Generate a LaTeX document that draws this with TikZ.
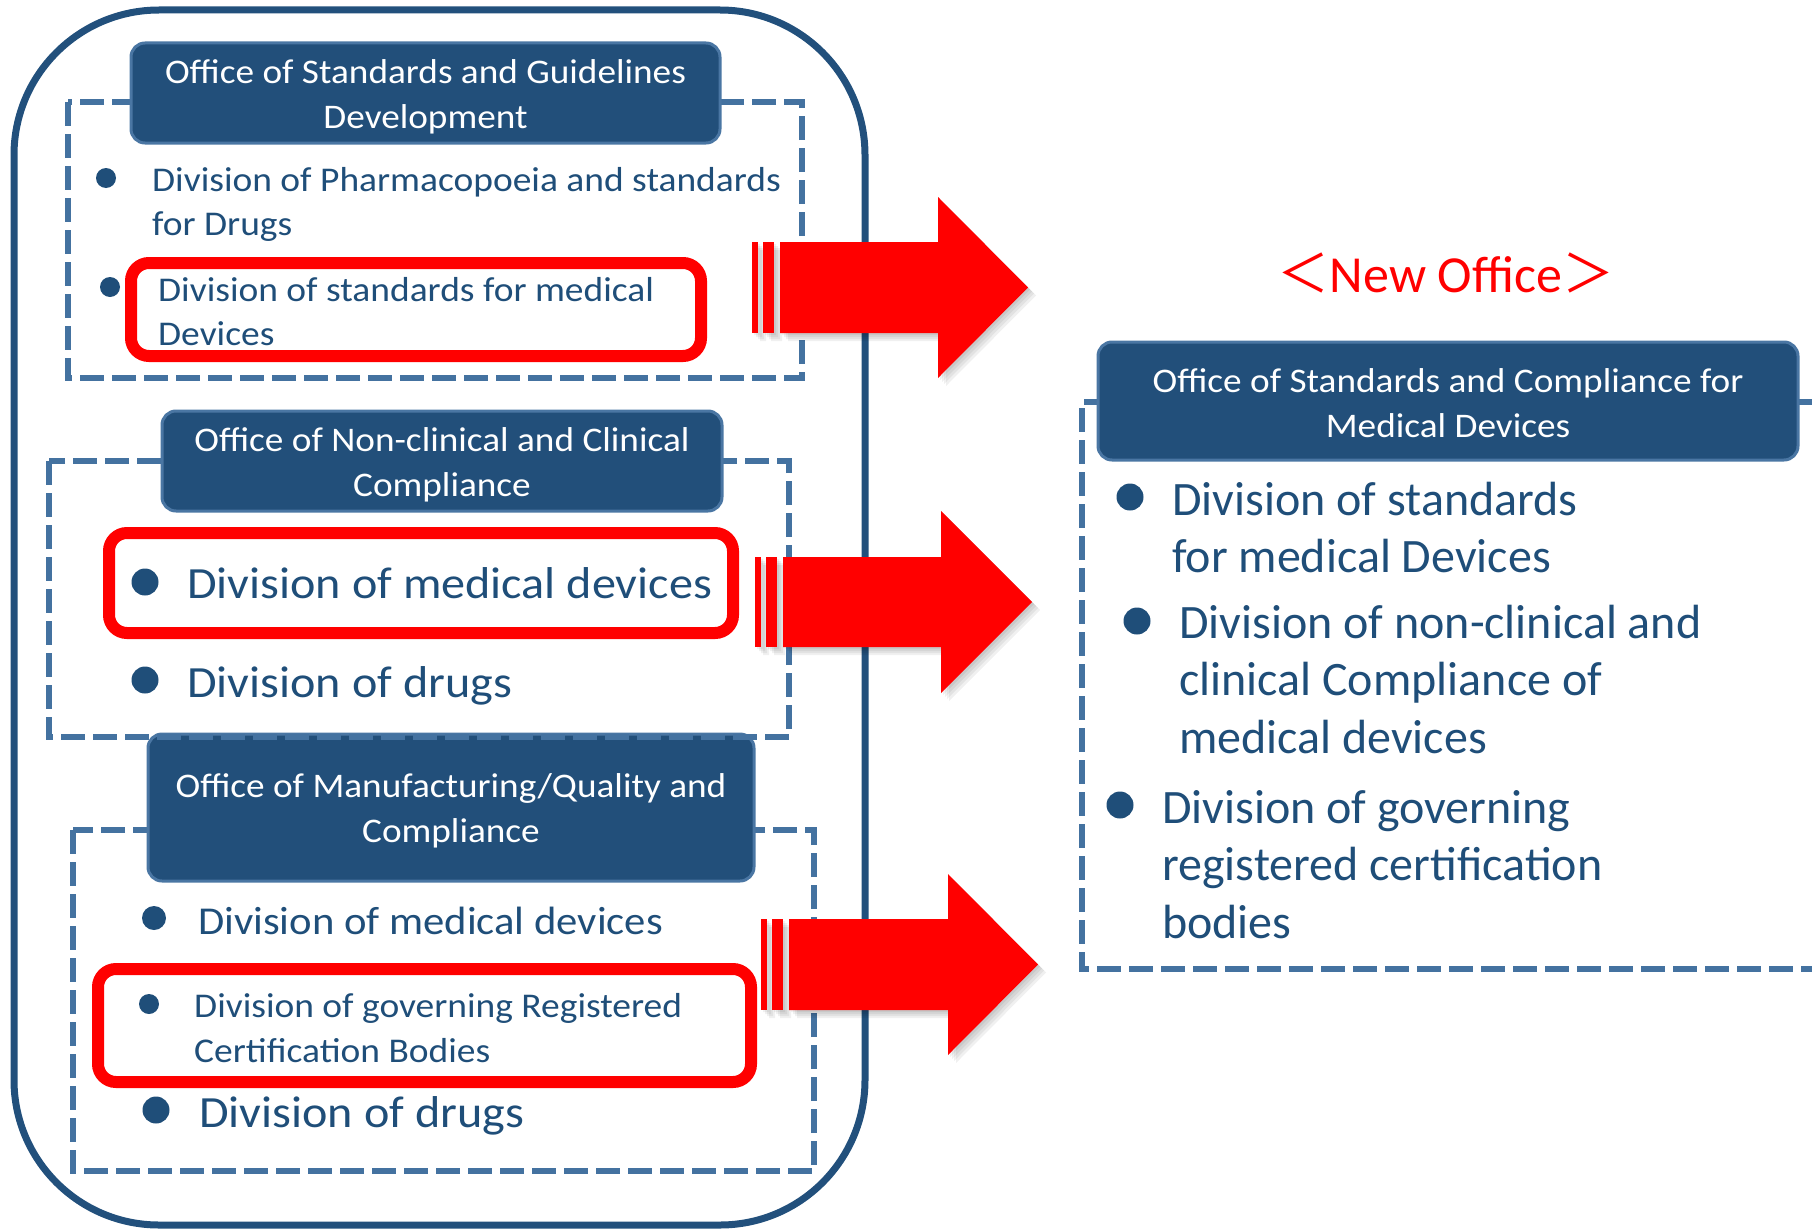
\documentclass[tikz,border=0pt]{standalone}
\usepackage{fontspec}
\setmainfont{Carlito}
\newfontfamily\stf[FakeStretch=1.08]{Carlito}
\newfontfamily\cjk{Noto Sans CJK JP}
\definecolor{hdrblue}{HTML}{224F7A}
\definecolor{hdredge}{HTML}{4A76A3}
\definecolor{dashblue}{HTML}{4472A0}
\definecolor{txtblue}{HTML}{1F4E79}
\definecolor{outerblue}{HTML}{22507C}
\tikzset{
  dbox/.style={draw=dashblue, line width=6.5pt, dash pattern=on 24pt off 8pt},
  hdrbox/.style={fill=hdrblue, draw=hdredge, line width=3pt, rounded corners=14pt},
  redbox/.style={draw=red, line width=12pt, rounded corners=18pt},
  dot/.style={circle, fill=txtblue, inner sep=0pt, minimum size=#1},
  hdrtext/.style={text=white, inner sep=0pt, anchor=base, font=\stf\fontsize{34.5}{45}\selectfont},
  smalltext/.style={text=txtblue, inner sep=0pt, anchor=base west, font=\stf\fontsize{34.7}{44}\selectfont},
  midtext/.style={text=txtblue, inner sep=0pt, anchor=base west, font=\stf\fontsize{39.5}{48}\selectfont},
  bigtext/.style={text=txtblue, inner sep=0pt, anchor=base west, font=\stf\fontsize{44.6}{54}\selectfont},
  righttext/.style={text=txtblue, inner sep=0pt, anchor=base west, font=\fontsize{48}{57.5}\selectfont},
}
% x0 = first stripe, hb = head base, tp = tip, cy = centre, hs = half shaft, hh = half head
\newcommand\redarrow[6]{%
  \foreach \o in {2,4,6,8}{%
    \fill[black, opacity=0.06, shift={(\o,\o)}]
      (#1,{#4-#5}) rectangle ({#1+6},{#4+#5})
      ({#1+11},{#4-#5}) rectangle ({#1+22},{#4+#5})
      ({#1+28},{#4-#5}) -- (#2,{#4-#5}) -- (#2,{#4-#6}) -- (#3,#4) -- (#2,{#4+#6}) -- (#2,{#4+#5}) -- ({#1+28},{#4+#5}) -- cycle;
  }
  \fill[red] (#1,{#4-#5}) rectangle ({#1+6},{#4+#5});
  \fill[red] ({#1+11},{#4-#5}) rectangle ({#1+22},{#4+#5});
  \fill[red] ({#1+28},{#4-#5}) -- (#2,{#4-#5}) -- (#2,{#4-#6}) -- (#3,#4) -- (#2,{#4+#6}) -- (#2,{#4+#5}) -- ({#1+28},{#4+#5}) -- cycle;
}
\begin{document}
\begin{tikzpicture}[x=1pt, y=-1pt]
\useasboundingbox (0,0) rectangle (1812,1231);

% outer frame
\draw[outerblue, line width=7pt, rounded corners=145pt] (14,10) rectangle (865,1225);

% group 1
\draw[dbox] (68,102) rectangle (802,378);
\draw[hdrbox] (131,43) rectangle (720,143);
\node[hdrtext] (h1) at (425.5,83) {\begin{tabular}[t]{@{}c@{}}Office of Standards and Guidelines\\Development\end{tabular}};

% group 3 (drawn before group 2 so that group 2's dashes lie over its header)
\draw[dbox] (73,830) rectangle (814,1171);
\draw[hdrbox] (148,734) rectangle (754,881);
\node[hdrtext] (h3) at (451,797) {\begin{tabular}[t]{@{}c@{}}Office of Manufacturing/Quality and\\Compliance\end{tabular}};

% group 2
\draw[dbox] (49,461) rectangle (789,737);
\draw[hdrbox] (162,411) rectangle (722,511);
\node[hdrtext] (h2) at (442,451) {\begin{tabular}[t]{@{}c@{}}Office of Non-clinical and Clinical\\Compliance\end{tabular}};

% items group 1
\node[dot=20pt] (b1a) at (106,178) {};
\node[smalltext] (t1a) at (152,191) {\begin{tabular}[t]{@{}l@{}}Division of Pharmacopoeia and standards\\for Drugs\end{tabular}};
\node[dot=20pt] (b1b) at (110,287) {};
\draw[redbox] (131,263) rectangle (701,356);
\node[smalltext] (t1b) at (158,301) {\begin{tabular}[t]{@{}l@{}}Division of standards for medical\\Devices\end{tabular}};

% items group 2
\draw[redbox] (109,533) rectangle (733,633);
\node[dot=27pt] (b2a) at (145,582) {};
\node[bigtext] (t2a) at (187,598) {Division of medical devices};
\node[dot=27pt] (b2b) at (145,680) {};
\node[bigtext] (t2b) at (187,697) {Division of drugs};

% items group 3
\node[dot=24pt] (b3a) at (154,918) {};
\node[midtext] (t3a) at (198,934) {Division of medical devices};
\draw[redbox] (98,969) rectangle (751,1082);
\node[dot=20pt] (b3b) at (149,1004) {};
\node[smalltext, font=\stf\fontsize{34.7}{45.5}\selectfont] (t3b) at (194,1017) {\begin{tabular}[t]{@{}l@{}}Division of governing Registered\\Certification Bodies\end{tabular}};
\node[dot=27pt] (b3c) at (156,1110) {};
\node[bigtext] (t3c) at (199,1127) {Division of drugs};

% new office
\node[text=red, inner sep=0pt, anchor=base, font=\fontsize{52}{60}\selectfont] (new) at (1446,292) {{\cjk ＜}New Office{\cjk ＞}};
\draw[dbox] (1812,402) -- (1082,402) -- (1082,969) -- (1812,969);
\draw[hdrbox] (1098,342) rectangle (1798,460);
\node[hdrtext] (h4) at (1448,392) {\begin{tabular}[t]{@{}c@{}}Office of Standards and Compliance for\\Medical Devices\end{tabular}};

\node[dot=27pt] (r1b) at (1130,497) {};
\node[righttext] (r1) at (1172,515) {\begin{tabular}[t]{@{}l@{}}Division of standards\\for medical Devices\end{tabular}};
\node[dot=27pt] (r2b) at (1137,621) {};
\node[righttext] (r2) at (1179,638) {\begin{tabular}[t]{@{}l@{}}Division of non-clinical and\\clinical Compliance of\\medical devices\end{tabular}};
\node[dot=27pt] (r3b) at (1120,805) {};
\node[righttext] (r3) at (1162,823) {\begin{tabular}[t]{@{}l@{}}Division of governing\\registered certification\\bodies\end{tabular}};

% arrows
\redarrow{752}{938}{1028}{287.5}{45.5}{90.5}
\redarrow{755}{941}{1032}{602}{45}{91}
\redarrow{761}{948}{1038}{964.5}{45.5}{90.5}
\end{tikzpicture}
\end{document}
